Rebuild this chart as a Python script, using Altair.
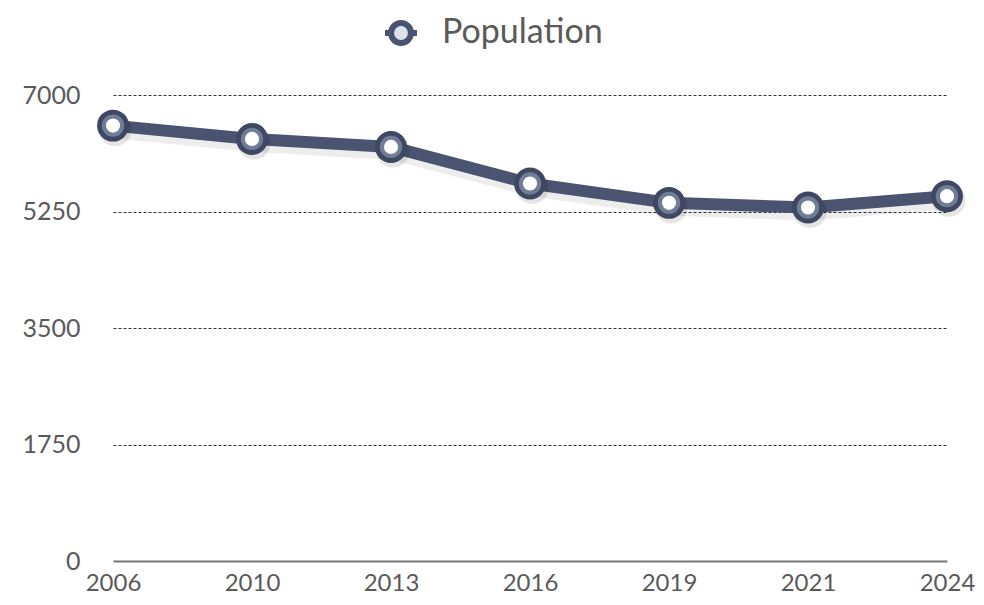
import altair as alt
import pandas as pd

years = ["2006", "2010", "2013", "2016", "2019", "2021", "2024"]
population = [6540, 6340, 6220, 5670, 5380, 5310, 5480]
series = ["Population"] * len(years)
y_ticks = [0, 1750, 3500, 5250, 7000]

df = pd.DataFrame({"year": years, "value": population, "series": series})

FONT = "Lato"
LINE = "#4a5370"
TXT = "#5a5a5a"

x = alt.X("year:O", scale=alt.Scale(type="point", padding=0), sort=years,
          axis=alt.Axis(title=None, labelAngle=0, labelFont=FONT, labelFontSize=24,
                        labelColor=TXT, labelPadding=10, ticks=False,
                        domain=True, domainColor="#777777", domainWidth=2, grid=False))
y = alt.Y("value:Q", scale=alt.Scale(domain=[0, 7000], nice=False),
          axis=alt.Axis(title=None, values=y_ticks, format="d", labelFont=FONT, labelFontSize=25,
                        labelColor=TXT, labelPadding=33, ticks=False, domain=False,
                        grid=True, gridDash=[3, 2], gridWidth=1,
                        gridColor=alt.condition(alt.datum.value == 0, alt.value("transparent"), alt.value("#333333"))))

base = alt.Chart(df)

shadow = base.mark_line(strokeWidth=16, color="#000000", opacity=0.07, xOffset=2, yOffset=5,
                        strokeCap="round", strokeJoin="round").encode(x=x, y=y)

line = base.mark_line(strokeWidth=12, strokeJoin="round").encode(
    x=x, y=y,
    color=alt.Color("series:N", scale=alt.Scale(range=[LINE]),
                    legend=alt.Legend(title=None, orient="none", legendX=269, legendY=-81,
                                      labelFont=FONT, labelFontSize=34, labelColor=TXT,
                                      labelOffset=22, labelLimit=400,
                                      symbolType="M-1,0L-0.62,0M0.62,0L1,0M0.62,0A0.62,0.62 0 1,0 -0.62,0A0.62,0.62 0 1,0 0.62,0Z",
                                      symbolSize=1024, symbolStrokeWidth=6,
                                      symbolFillColor="#dde2ea", symbolStrokeColor="#3f4763")),
)

pt_shadow = base.mark_circle(size=1100, color="#000000", opacity=0.10, xOffset=2, yOffset=4).encode(x=x, y=y)
pt_outer = base.mark_circle(size=1018, color="#3f4763", opacity=1).encode(x=x, y=y)
pt_mid = base.mark_circle(size=500, color="#6f7d96", opacity=1).encode(x=x, y=y)
pt_inner = base.mark_circle(size=200, color="#ffffff", opacity=1).encode(x=x, y=y)

chart = alt.layer(shadow, line, pt_shadow, pt_outer, pt_mid, pt_inner).properties(
    width=834, height=466,
    autosize=alt.AutoSizeParams(type="none"),
    padding={"left": 105, "top": 87, "right": 29, "bottom": 36},
    background="white",
).configure_view(stroke=None)

chart.save("out.html", embed_options={"renderer": "svg", "actions": False})
